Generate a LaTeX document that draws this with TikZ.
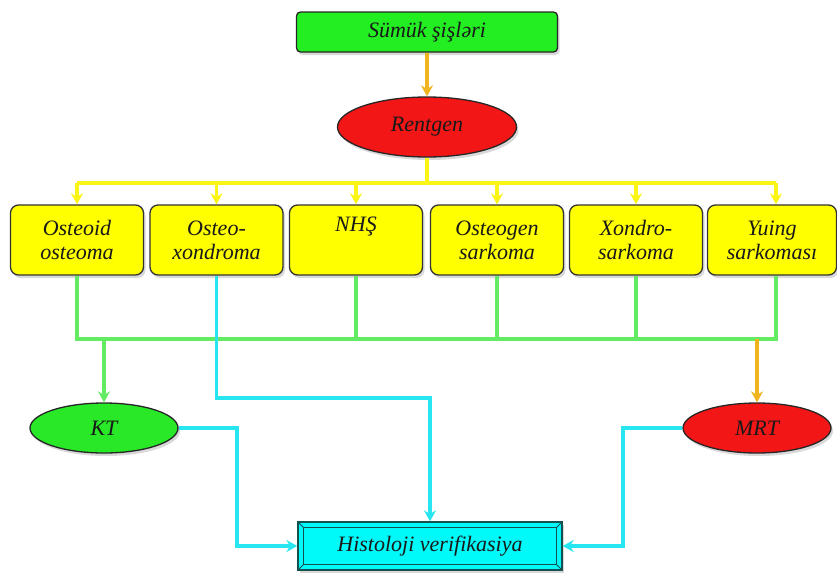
\documentclass[tikz,border=0pt]{standalone}
\usepackage{fontspec}
\setmainfont{Liberation Serif}
\usetikzlibrary{arrows.meta,shapes.geometric,shadows}
\definecolor{topgreen}{RGB}{34,238,34}
\definecolor{ktgreen}{RGB}{40,232,40}
\definecolor{ovalred}{RGB}{242,22,22}
\definecolor{boxyellow}{RGB}{255,255,0}
\definecolor{lineyellow}{RGB}{250,245,20}
\definecolor{linegreen}{RGB}{100,235,100}
\definecolor{linecyan}{RGB}{40,230,240}
\definecolor{lineorange}{RGB}{240,180,30}
\definecolor{histcyan}{RGB}{0,250,250}
\definecolor{histedge}{RGB}{20,80,80}
\begin{document}
\begin{tikzpicture}[x=1pt,y=-1pt,
  lbl/.style={font=\fontsize{22}{24}\selectfont\itshape, text=black!90},
  shd/.style={drop shadow={opacity=0.3, shadow xshift=2pt, shadow yshift=-3pt}},
  topbox/.style={lbl, shd, draw=black!85, line width=1.3pt, rounded corners=4pt, fill=topgreen, minimum width=261pt, minimum height=40pt},
  oval/.style={lbl, shd, ellipse, draw=black!85, line width=1.3pt, inner sep=0pt},
  tbox/.style={lbl, shd, draw=black!80, line width=1.3pt, rounded corners=8pt, fill=boxyellow, minimum width=133pt, minimum height=70pt, align=center, inner sep=0pt},
  conn/.style={line width=3.5pt},
  tip/.style={-{Stealth[length=11pt,width=12pt]}},
  yline/.style={conn, lineyellow},
  gline/.style={conn, linegreen},
  cline/.style={conn, linecyan},
  oline/.style={conn, lineorange}
]
\useasboundingbox (0,0) rectangle (837,573);

\node[topbox] (top) at (427,32) {Sümük şişləri};
\node[oval, fill=ovalred, minimum width=179pt, minimum height=60pt] (rent) at (427,127) {Rentgen};

\node[tbox] (b1) at (77,240) {Osteoid\\osteoma};
\node[tbox] (b2) at (216.5,240) {Osteo-\\xondroma};
\node[tbox] (b3) at (356,240) {NHŞ\\\strut};
\node[tbox] (b4) at (497,240) {Osteogen\\sarkoma};
\node[tbox] (b5) at (636,240) {Xondro-\\sarkoma};
\node[tbox, minimum width=129pt] (b6) at (772,240) {Yuing\\sarkoması};

\node[oval, fill=ktgreen, minimum width=148pt, minimum height=50pt] (kt) at (104,428) {KT};
\node[oval, fill=ovalred, minimum width=148pt, minimum height=50pt] (mrt) at (757,428) {MRT};

\node[lbl, shd, draw=histedge, line width=1.3pt, fill=histcyan, minimum width=264pt, minimum height=48pt] (hist) at (430,546) {Histoloji verifikasiya};
\draw[histedge, line width=0.8pt] ([shift={(6,6)}]hist.north west) rectangle ([shift={(-6,-6)}]hist.south east);
\draw[histedge, line width=0.8pt] (hist.north west) -- ++(6,6) (hist.north east) -- ++(-6,6) (hist.south west) -- ++(6,-6) (hist.south east) -- ++(-6,-6);

% coordinates for buses
\coordinate (ybus) at (0,183);
\coordinate (gbus) at (0,339);
\coordinate (cbus) at (0,398);
\coordinate (kx) at (237,0);
\coordinate (mx) at (623,0);
\coordinate (b6a) at (776,0);

% top arrow
\draw[oline, tip] (top.south) -- (rent.north);

% yellow bus
\draw[yline] (rent.south) -- (rent.south |- ybus);
\draw[yline] (b1.north |- ybus) -- (b6a |- ybus);
\foreach \b in {b1,b2,b3,b4,b5} \draw[yline, tip] (\b.north |- ybus) -- (\b.north);
\draw[yline, tip] (b6a |- ybus) -- (b6a |- b6.north);

% green bus
\draw[gline] (b1.south) -- (b1.south |- gbus) -- (b6a |- gbus) -- (b6a |- b6.south);
\foreach \b in {b3,b4,b5} \draw[gline] (\b.south) -- (\b.south |- gbus);
\draw[gline, tip] (kt.north |- gbus) -- (kt.north);
\draw[oline, tip] (mrt.north |- gbus) -- (mrt.north);

% cyan connectors
\draw[cline, tip] (b2.south) -- (b2.south |- cbus) -- (hist.north |- cbus) -- (hist.north);
\draw[cline, tip] (kt.east) -- (kt.east -| kx) -- (kx |- hist.west) -- (hist.west);
\draw[cline, tip] (mrt.west) -- (mrt.west -| mx) -- (mx |- hist.east) -- (hist.east);
\end{tikzpicture}
\end{document}
